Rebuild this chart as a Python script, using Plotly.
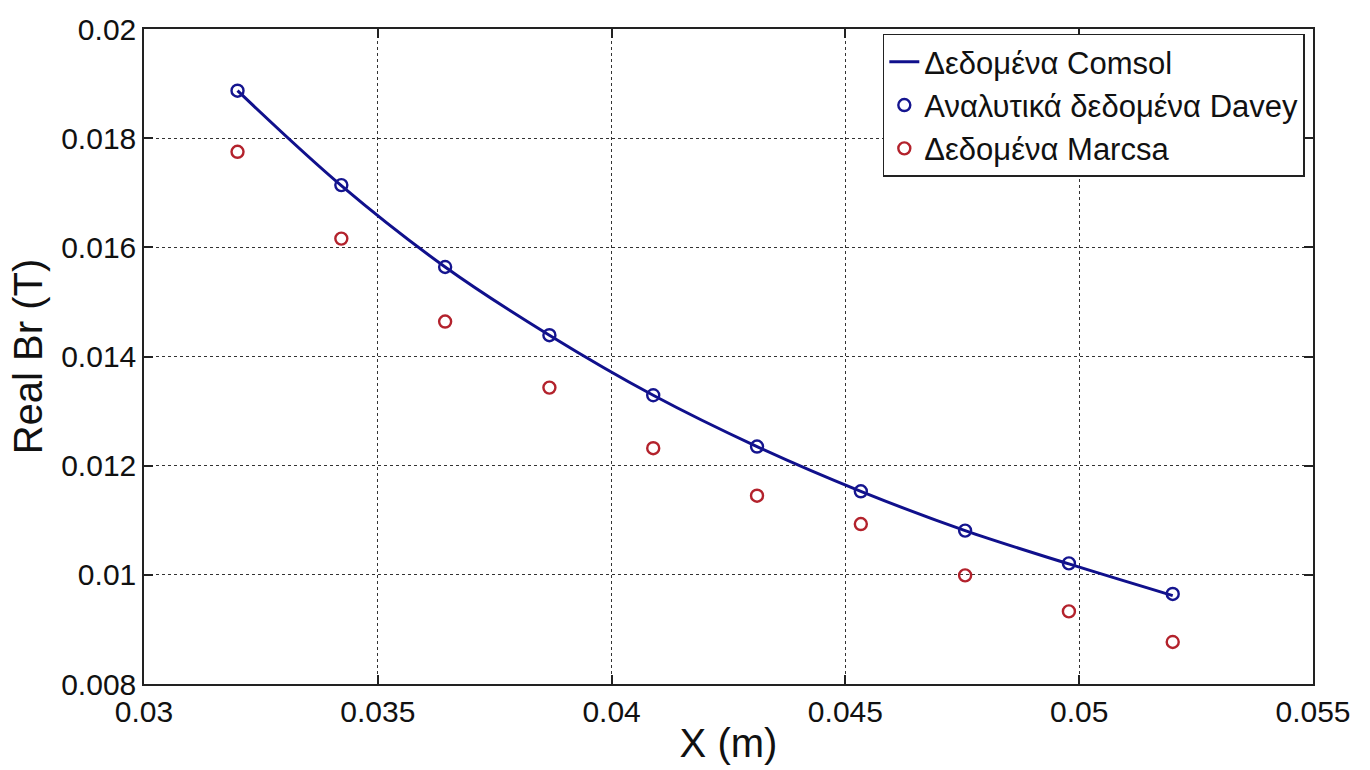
import plotly.graph_objects as go

x_pos = [0.0320, 0.03422, 0.03644, 0.03867, 0.04089, 0.04311, 0.04533, 0.04756, 0.04978, 0.0520]
comsol = [0.01887, 0.01713, 0.01564, 0.01439, 0.01329, 0.01235, 0.01153, 0.01081, 0.01020, 0.00962]
davey = [0.01887, 0.01714, 0.01564, 0.01439, 0.01329, 0.01235, 0.01153, 0.01081, 0.01021, 0.00965]
marcsa = [0.01775, 0.01616, 0.01464, 0.01343, 0.01232, 0.01145, 0.01093, 0.00999, 0.00933, 0.00877]

x_ticks = [0.03, 0.035, 0.04, 0.045, 0.05, 0.055]
x_ticktext = ["0.03", "0.035", "0.04", "0.045", "0.05", "0.055"]
y_ticks = [0.008, 0.010, 0.012, 0.014, 0.016, 0.018, 0.020]
y_ticktext = ["0.008", "0.01", "0.012", "0.014", "0.016", "0.018", "0.02"]

names = ["Δεδομένα Comsol", "Αναλυτικά δεδομένα Davey", "Δεδομένα Marcsa"]

FONT = "Liberation Sans, Arial, sans-serif"

fig = go.Figure()
fig.add_trace(go.Scatter(x=x_pos, y=comsol, mode="lines", name=names[0],
                         line=dict(color="#10108c", width=3, shape="spline")))
fig.add_trace(go.Scatter(x=x_pos, y=davey, mode="markers", name=names[1],
                         marker=dict(symbol="circle-open", size=12, color="#15158f",
                                     line=dict(width=2.4, color="#15158f"))))
fig.add_trace(go.Scatter(x=x_pos, y=marcsa, mode="markers", name=names[2],
                         marker=dict(symbol="circle-open", size=12, color="#b3222c",
                                     line=dict(width=2.4, color="#b3222c"))))

axis_common = dict(
    showline=True, linecolor="#222222", linewidth=1.5, mirror="ticks",
    ticks="inside", ticklen=9, tickcolor="#222222", tickwidth=1.5,
    showgrid=True, gridcolor="#333333", griddash="dot", gridwidth=1,
    zeroline=False, tickfont=dict(family=FONT, size=30, color="#111111"),
)

fig.update_layout(
    width=1370, height=770,
    margin=dict(l=144, r=57, t=23, b=85),
    paper_bgcolor="white", plot_bgcolor="white",
    font=dict(family=FONT, color="#111111"),
    xaxis=dict(range=[0.03, 0.055], tickvals=x_ticks, ticktext=x_ticktext,
               title=dict(text="X (m)", font=dict(family=FONT, size=40), standoff=2),
               **axis_common),
    yaxis=dict(range=[0.008, 0.020], tickvals=y_ticks, ticktext=y_ticktext,
               title=dict(text="Real Br (T)", font=dict(family=FONT, size=40), standoff=6),
               **axis_common),
    legend=dict(x=0.993, y=0.993, xanchor="right", yanchor="top",
                bgcolor="white", bordercolor="#222222", borderwidth=1.5,
                font=dict(family=FONT, size=31, color="#111111"),
                tracegroupgap=0, itemwidth=30),
    showlegend=True,
)

fig.write_html("out.html")
